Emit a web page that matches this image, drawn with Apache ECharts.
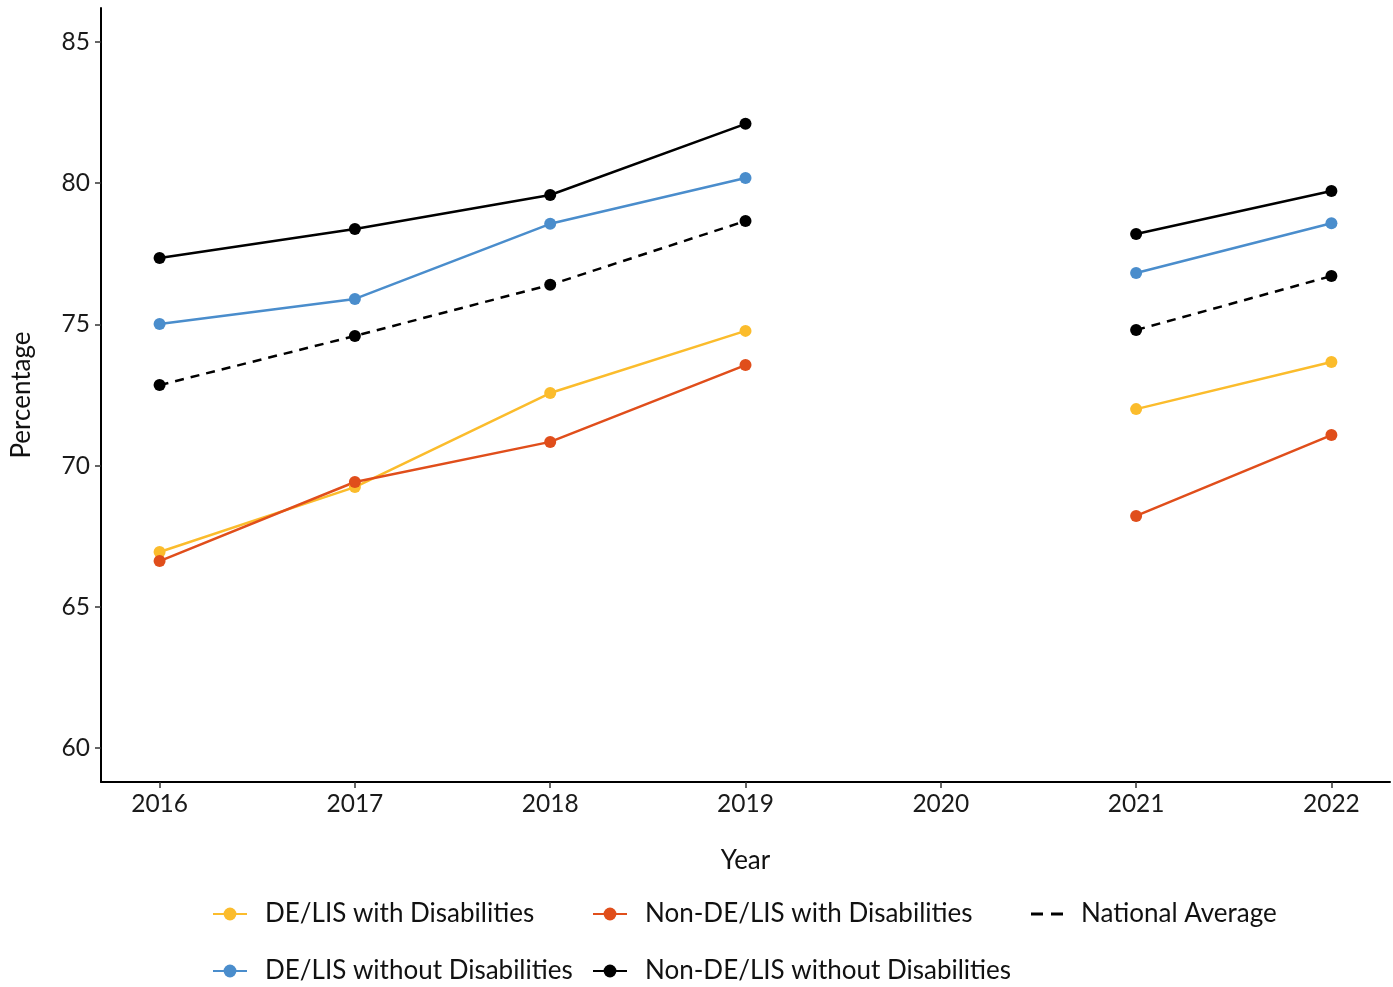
<!DOCTYPE html>
<html>
<head>
<meta charset="utf-8">
<script src="https://cdn.jsdelivr.net/npm/echarts@6/dist/echarts.min.js"></script>
<style>
  html, body { margin: 0; padding: 0; background: #fff; }
  #chart { width: 1393px; height: 987px; }
</style>
</head>
<body>
<div id="chart"></div>
<script>
// Survey years (no data collected in 2020)
const years = [2016, 2017, 2018, 2019, 2020, 2021, 2022];
const yTicks = [60, 65, 70, 75, 80, 85];

// Percentage by group and year
const deWithDis      = [66.94, 69.24, 72.57, 74.77, null, 72.00, 73.67];
const nonDeWithDis   = [66.62, 69.42, 70.84, 73.56, null, 68.22, 71.08];
const deWithoutDis   = [75.01, 75.90, 78.56, 80.18, null, 76.82, 78.58];
const nonDeWithoutDis= [77.35, 78.38, 79.58, 82.10, null, 78.20, 79.72];
const nationalAvg    = [72.85, 74.59, 76.40, 78.66, null, 74.80, 76.71];

const FONT = 'Lato';
const pairs = vals => years.map((y, i) => [y, vals[i]]);

function lineSeries(name, vals, color, dashed) {
  return {
    name: name,
    type: 'line',
    data: pairs(vals),
    connectNulls: false,
    symbol: 'circle',
    symbolSize: 12,
    itemStyle: { color: color },
    lineStyle: { color: color, width: 2.5, type: dashed ? [9, 7] : 'solid' },
    emphasis: { disabled: true },
    z: 3
  };
}

function legendAt(name, left, top, extra) {
  return Object.assign({
    data: [name],
    left: left,
    top: top,
    orient: 'horizontal',
    itemWidth: 34,
    itemHeight: 16,
    itemGap: 0,
    selectedMode: false,
    padding: 0,
    textStyle: { fontFamily: FONT, fontSize: 26, color: '#111', padding: [0, 0, 0, 13] }
  }, extra || {});
}

const chart = echarts.init(document.getElementById('chart'), null, { renderer: 'canvas' });
chart.setOption({
  backgroundColor: '#fff',
  animation: false,
  grid: { left: 101, right: 3, top: 8, bottom: 205, containLabel: false },
  xAxis: {
    type: 'value',
    min: 2015.7,
    max: 2022.3,
    name: 'Year',
    nameLocation: 'middle',
    nameGap: 66,
    nameTextStyle: { fontFamily: FONT, fontSize: 26, color: '#111' },
    axisLine: { show: true, lineStyle: { color: '#000', width: 2 } },
    axisTick: { show: true, length: 6, customValues: years, lineStyle: { color: '#333', width: 1.5 } },
    axisLabel: { customValues: years, margin: 10, fontFamily: FONT, fontSize: 24.5, color: '#1a1a1a',
                 formatter: v => String(v) },
    splitLine: { show: false }
  },
  yAxis: {
    type: 'value',
    min: 58.8,
    max: 86.2,
    name: 'Percentage',
    nameLocation: 'middle',
    nameRotate: 90,
    nameGap: 66,
    nameTextStyle: { fontFamily: FONT, fontSize: 26, color: '#111' },
    axisLine: { show: true, lineStyle: { color: '#000', width: 2 } },
    axisTick: { show: true, length: 6, customValues: yTicks, lineStyle: { color: '#333', width: 1.5 } },
    axisLabel: { customValues: yTicks, margin: 11, fontFamily: FONT, fontSize: 24.5, color: '#1a1a1a' },
    splitLine: { show: false }
  },
  legend: [
    legendAt('DE/LIS with Disabilities', 212, 901),
    legendAt('Non-DE/LIS with Disabilities', 592, 901),
    legendAt('National Average', 1031, 901, {
      data: [{ name: 'National Average',
               icon: 'path://M0,0h12v3h-12z M20,0h12v3h-12z',
               itemStyle: { color: '#000' } }],
      itemWidth: 32,
      itemHeight: 3
    }),
    legendAt('DE/LIS without Disabilities', 212, 958),
    legendAt('Non-DE/LIS without Disabilities', 592, 958)
  ],
  series: [
    lineSeries('DE/LIS with Disabilities', deWithDis, '#FBBC2C', false),
    lineSeries('Non-DE/LIS with Disabilities', nonDeWithDis, '#E04E1B', false),
    lineSeries('DE/LIS without Disabilities', deWithoutDis, '#4A8DCC', false),
    lineSeries('Non-DE/LIS without Disabilities', nonDeWithoutDis, '#000000', false),
    lineSeries('National Average', nationalAvg, '#000000', true)
  ]
});
</script>
</body>
</html>
